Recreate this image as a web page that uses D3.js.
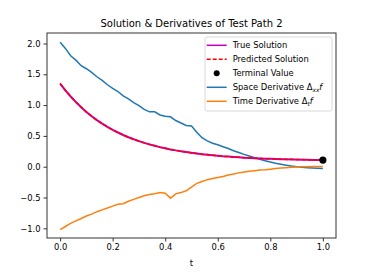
<!DOCTYPE html>
<html>
<head>
<meta charset="utf-8">
<script src="https://cdn.jsdelivr.net/npm/d3@7"></script>
<style>
    body { margin: 0; background: #fff; }
    text { font-family: "DejaVu Sans", sans-serif; fill: #000; }
</style>
</head>
<body>
<svg id="chart" width="374" height="273"></svg>
<script>
// time grid of the test path
const tValues = [0.00, 0.02, 0.04, 0.06, 0.08, 0.10, 0.12, 0.14, 0.16, 0.18,
    0.20, 0.22, 0.24, 0.26, 0.28, 0.30, 0.32, 0.34, 0.36, 0.38,
    0.40, 0.42, 0.44, 0.46, 0.48, 0.50, 0.52, 0.54, 0.56, 0.58,
    0.60, 0.62, 0.64, 0.66, 0.68, 0.70, 0.72, 0.74, 0.76, 0.78,
    0.80, 0.82, 0.84, 0.86, 0.88, 0.90, 0.92, 0.94, 0.96, 0.98, 1.00];

const trueSolution = [1.350, 1.240, 1.140, 1.049, 0.965, 0.889, 0.820, 0.756, 0.699, 0.646,
    0.598, 0.555, 0.515, 0.478, 0.445, 0.415, 0.387, 0.362, 0.339, 0.318,
    0.299, 0.281, 0.265, 0.251, 0.238, 0.225, 0.214, 0.204, 0.195, 0.186,
    0.178, 0.170, 0.164, 0.158, 0.152, 0.147, 0.143, 0.139, 0.135, 0.131,
    0.128, 0.125, 0.122, 0.120, 0.118, 0.116, 0.114, 0.112, 0.110, 0.108, 0.107];

const predictedSolution = [1.352, 1.238, 1.142, 1.047, 0.967, 0.887, 0.822, 0.754, 0.701, 0.644,
    0.600, 0.553, 0.517, 0.476, 0.447, 0.413, 0.389, 0.360, 0.341, 0.316,
    0.301, 0.279, 0.267, 0.249, 0.240, 0.223, 0.216, 0.202, 0.197, 0.184,
    0.180, 0.168, 0.166, 0.156, 0.154, 0.145, 0.145, 0.137, 0.137, 0.129,
    0.130, 0.123, 0.124, 0.118, 0.120, 0.114, 0.116, 0.110, 0.112, 0.106, 0.108];

const spaceDerivative = [2.02, 1.92, 1.80, 1.73, 1.64, 1.59, 1.53, 1.46, 1.40, 1.33,
    1.27, 1.22, 1.15, 1.10, 1.04, 0.99, 0.93, 0.89, 0.89, 0.84,
    0.82, 0.81, 0.75, 0.71, 0.67, 0.66, 0.56, 0.47, 0.42, 0.38,
    0.355, 0.325, 0.295, 0.26, 0.23, 0.20, 0.175, 0.145, 0.12, 0.095,
    0.075, 0.055, 0.04, 0.025, 0.01, 0.0, -0.01, -0.015, -0.02, -0.025, -0.03];

const timeDerivative = [-1.02, -0.97, -0.92, -0.88, -0.84, -0.80, -0.77, -0.73, -0.70, -0.67,
    -0.64, -0.61, -0.60, -0.56, -0.53, -0.50, -0.47, -0.45, -0.44, -0.42,
    -0.43, -0.51, -0.44, -0.42, -0.39, -0.33, -0.27, -0.24, -0.21, -0.19,
    -0.175, -0.16, -0.135, -0.12, -0.10, -0.085, -0.075, -0.065, -0.055, -0.05,
    -0.04, -0.03, -0.02, -0.015, -0.01, -0.005, 0.0, 0.0, 0.005, 0.005, 0.005];

const terminalValue = [1.0, 0.107];

const xTicks = [0.0, 0.2, 0.4, 0.6, 0.8, 1.0];
const yTicks = [-1.0, -0.5, 0.0, 0.5, 1.0, 1.5, 2.0];

const legendItems = ['True Solution', 'Predicted Solution', 'Terminal Value', 'Space Derivative', 'Time Derivative'];

var svg = d3.select('#chart');
var margin = {left: 47, right: 38, top: 33, bottom: 35};
var width = 374 - margin.left - margin.right,
    height = 273 - margin.top - margin.bottom;

let x = d3.scaleLinear().domain([-0.05, 1.05]).range([0, width]);
let y = d3.scaleLinear().domain([-1.157, 2.17]).range([height, 0]);

var g = svg.append('g')
    .attr('transform', `translate(${margin.left},${margin.top})`);

function series(vals) {
    return vals.map((v, i) => [tValues[i], v]);
}

let line = d3.line()
    .x(d => x(d[0]))
    .y(d => y(d[1]));

g.append('path').datum(series(spaceDerivative))
    .attr('fill', 'none').attr('stroke', '#1f77b4').attr('stroke-width', 1.5)
    .attr('d', line);
g.append('path').datum(series(timeDerivative))
    .attr('fill', 'none').attr('stroke', '#ff7f0e').attr('stroke-width', 1.5)
    .attr('d', line);
g.append('path').datum(series(trueSolution))
    .attr('fill', 'none').attr('stroke', '#bf00bf').attr('stroke-width', 2)
    .attr('d', line);
g.append('path').datum(series(predictedSolution))
    .attr('fill', 'none').attr('stroke', '#ff0000').attr('stroke-width', 1.5)
    .attr('stroke-dasharray', '4,2')
    .attr('d', line);
g.append('circle')
    .attr('cx', x(terminalValue[0])).attr('cy', y(terminalValue[1]))
    .attr('r', 3.6).attr('fill', '#000');

// axes
let xAxis = g.append('g')
    .attr('transform', `translate(0,${height})`)
    .call(d3.axisBottom(x).tickValues(xTicks).tickFormat(d3.format('.1f')).tickSize(3.5).tickPadding(3));
let yAxis = g.append('g')
    .call(d3.axisLeft(y).tickValues(yTicks).tickFormat(d => d3.format('.1f')(d).replace('-', '\u2212')).tickSize(3.5).tickPadding(3));
[xAxis, yAxis].forEach(a => {
    a.select('.domain').remove();
    a.selectAll('line').attr('stroke', '#333');
    a.selectAll('text').style('font-size', '8.4px').attr('fill', '#222');
});

g.append('rect')
    .attr('x', 0).attr('y', 0).attr('width', width).attr('height', height)
    .attr('fill', 'none').attr('stroke', '#333').attr('stroke-width', 1);

// title and label
svg.append('text')
    .attr('x', margin.left + width / 2).attr('y', 27)
    .attr('text-anchor', 'middle').style('font-size', '10px')
    .text('Solution & Derivatives of Test Path 2');
svg.append('text')
    .attr('x', margin.left + width / 2).attr('y', 266)
    .attr('text-anchor', 'middle').style('font-size', '8.4px')
    .text('t');

// legend
var lg = svg.append('g').attr('transform', 'translate(205,37)');
lg.append('rect')
    .attr('width', 127).attr('height', 74).attr('rx', 2)
    .attr('fill', 'rgba(255,255,255,0.8)').attr('stroke', '#d0d0d0').attr('stroke-width', 0.8);

let rowY = i => 8.3 + i * 14;
let handles = [
    {stroke: '#bf00bf', dash: null},
    {stroke: '#ff0000', dash: '4,2'},
    {dot: true},
    {stroke: '#1f77b4', dash: null},
    {stroke: '#ff7f0e', dash: null}
];
handles.forEach((h, i) => {
    if (h.dot) {
        lg.append('circle').attr('cx', 11.7).attr('cy', rowY(i)).attr('r', 3).attr('fill', '#000');
    }
    else {
        lg.append('line')
            .attr('x1', 1.7).attr('x2', 21.7).attr('y1', rowY(i)).attr('y2', rowY(i))
            .attr('stroke', h.stroke).attr('stroke-width', 1.5)
            .attr('stroke-dasharray', h.dash);
    }
    let t = lg.append('text')
        .attr('x', 27.7).attr('y', rowY(i) + 3)
        .style('font-size', '8.4px')
        .text(legendItems[i] + (i >= 3 ? ' ' : ''));
    if (i == 3) {
        t.append('tspan').text('\u0394');
        t.append('tspan').attr('dy', 1.8).style('font-size', '5.8px').style('font-style', 'italic').text('xx');
        t.append('tspan').attr('dy', -1.8).style('font-style', 'italic').text('f');
    }
    if (i == 4) {
        t.append('tspan').text('\u0394');
        t.append('tspan').attr('dy', 1.8).style('font-size', '5.8px').style('font-style', 'italic').text('t');
        t.append('tspan').attr('dy', -1.8).style('font-style', 'italic').text('f');
    }
});
</script>
</body>
</html>
